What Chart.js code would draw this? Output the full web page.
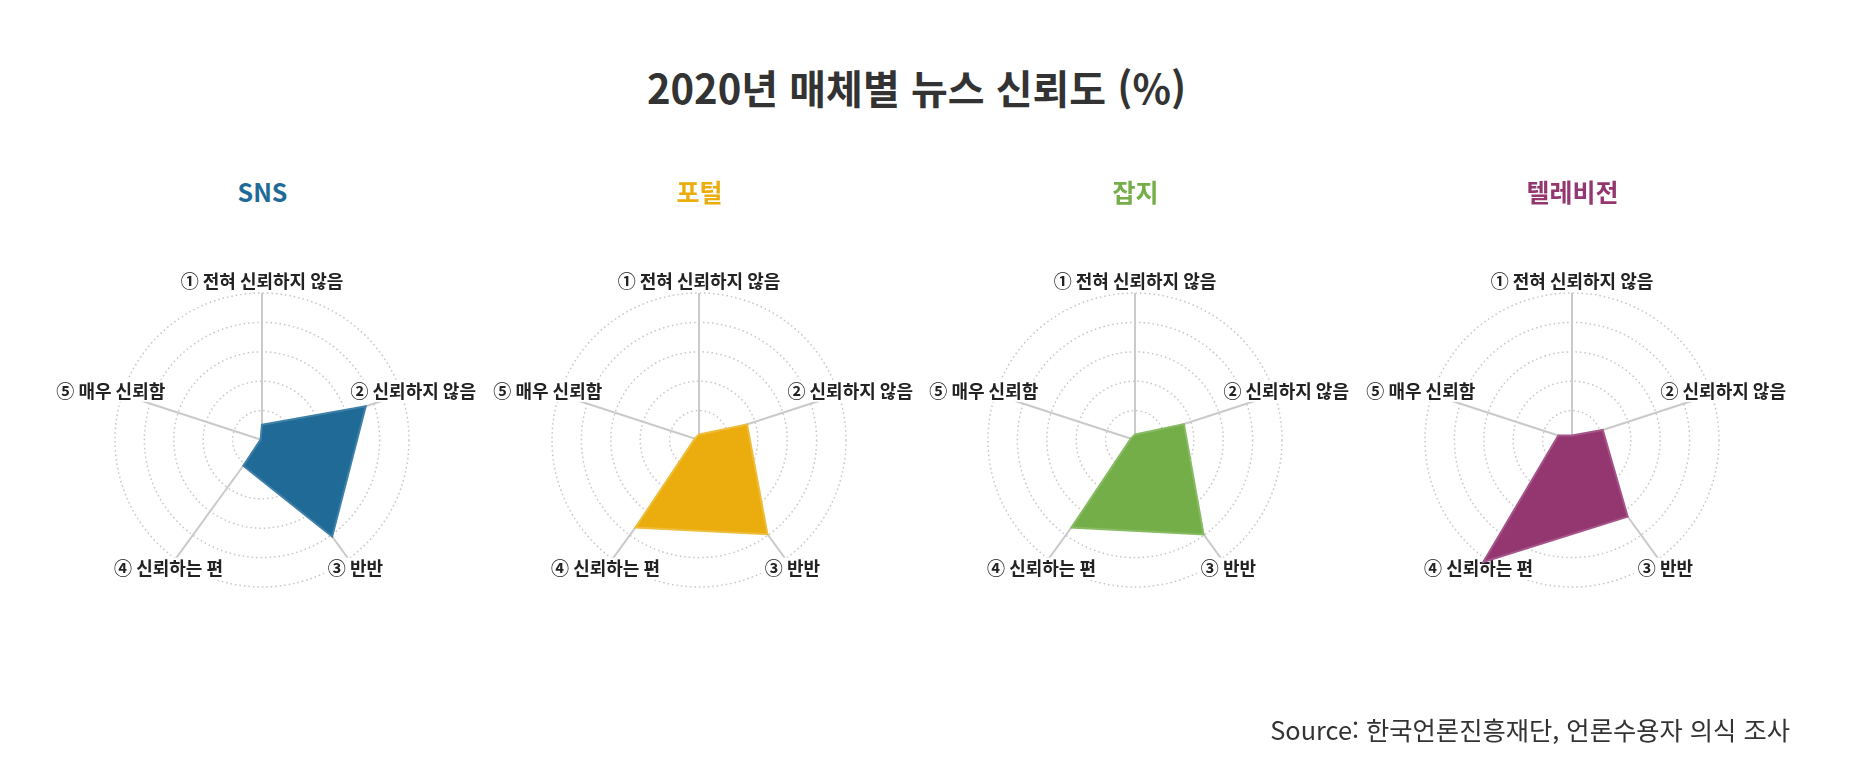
<!DOCTYPE html>
<html lang="ko">
<head>
<meta charset="utf-8">
<title>2020년 매체별 뉴스 신뢰도 (%)</title>
<script src="https://cdn.jsdelivr.net/npm/chart.js@4.4.1/dist/chart.umd.min.js"></script>
<style>
    html, body { margin: 0; padding: 0; background: #fff; }
    body {
        width: 1849px; height: 767px; position: relative; overflow: hidden;
        font-family: "Noto Sans CJK KR", "Noto Sans", sans-serif; color: #333;
    }
    #title {
        position: absolute; top: 87px; left: -8px; width: 100%; margin: 0;
        text-align: center; font-size: 40px; font-weight: bold; line-height: 1;
        transform: translateY(-50%);
    }
    .col { position: absolute; top: 0; width: 437px; height: 767px; }
    .col h2 {
        position: absolute; top: 191px; left: 0; width: 100%; margin: 0;
        text-align: center; font-size: 25px; font-weight: bold; line-height: 1;
        transform: translateY(-50%);
    }
    .col canvas { position: absolute; left: -21px; top: 222px; }
    #source {
        position: absolute; right: 59px; top: 730px; margin: 0;
        font-size: 25.3px; line-height: 1; color: #333; transform: translateY(-50%);
    }
</style>
</head>
<body>
<h1 id="title">2020년 매체별 뉴스 신뢰도 (%)</h1>
<div id="charts"></div>
<p id="source">Source: 한국언론진흥재단, 언론수용자 의식 조사</p>

<script>
// --- Data ---
const axisLabels = ['① 전혀 신뢰하지 않음', '② 신뢰하지 않음', '③ 반반', '④ 신뢰하는 편', '⑤ 매우 신뢰함'];
const mediaNames = ['SNS', '포털', '잡지', '텔레비전'];
const snsValues = [5.2, 37.1, 40.6, 10.8, 0.5];
const portalValues = [1.9, 17.2, 39.6, 36.8, 1.5];
const magazineValues = [1.9, 17.5, 39.7, 36.8, 1.5];
const tvValues = [1.5, 11.0, 32.2, 51.3, 4.9];
const seriesValues = [snsValues, portalValues, magazineValues, tvValues];
const scaleMin = 0;
const scaleMax = 50;
const scaleStep = 10;

// --- Style ---
const fillColors = ['#1f6a96', '#ebad0d', '#74ae48', '#94366f'];
const lineColors = ['#3f80a8', '#efbd3c', '#88bb63', '#a5558a'];
const colLefts = [44, 481, 917, 1354];

// draws the axis captions centred just outside the outer ring, under the polygons
const axisLabelPlugin = {
    id: 'axisLabels',
    beforeDatasetsDraw(chart) {
        const scale = chart.scales.r;
        const ctx = chart.ctx;
        ctx.save();
        ctx.font = 'bold 18px "Noto Sans CJK KR"';
        ctx.textAlign = 'center';
        ctx.textBaseline = 'middle';
        chart.data.labels.forEach((label, i) => {
            const p = scale.getPointPosition(i, scale.drawingArea + 12);
            const w = ctx.measureText(label).width;
            ctx.fillStyle = '#fff';
            ctx.fillRect(p.x - w / 2 - 4, p.y - 11, w + 8, 22);
            ctx.fillStyle = '#222';
            ctx.fillText(label, p.x, p.y);
        });
        ctx.restore();
    }
};

const chartsEl = document.getElementById('charts');

mediaNames.forEach((name, i) => {
    const col = document.createElement('div');
    col.className = 'col';
    col.style.left = colLefts[i] + 'px';
    const h = document.createElement('h2');
    h.textContent = name;
    h.style.color = fillColors[i];
    const canvas = document.createElement('canvas');
    canvas.width = 480;
    canvas.height = 437;
    col.appendChild(h);
    col.appendChild(canvas);
    chartsEl.appendChild(col);

    new Chart(canvas, {
        type: 'radar',
        data: {
            labels: axisLabels,
            datasets: [{
                label: name,
                data: seriesValues[i],
                backgroundColor: fillColors[i],
                borderColor: lineColors[i],
                borderWidth: 2,
                pointRadius: 0,
                pointHoverRadius: 0,
                fill: true,
                tension: 0
            }]
        },
        options: {
            responsive: false,
            animation: false,
            devicePixelRatio: 1,
            layout: { padding: { left: 92, right: 93, top: 71, bottom: 71 } },
            plugins: {
                legend: { display: false },
                tooltip: { enabled: false }
            },
            scales: {
                r: {
                    min: scaleMin,
                    max: scaleMax,
                    ticks: { display: false, stepSize: scaleStep },
                    pointLabels: { display: false },
                    grid: { circular: true, color: '#c6c6c6', lineWidth: 1.5 },
                    border: { dash: [1.5, 3] },
                    angleLines: { color: '#cacaca', lineWidth: 2 }
                }
            }
        },
        plugins: [axisLabelPlugin]
    });
});
</script>
</body>
</html>
